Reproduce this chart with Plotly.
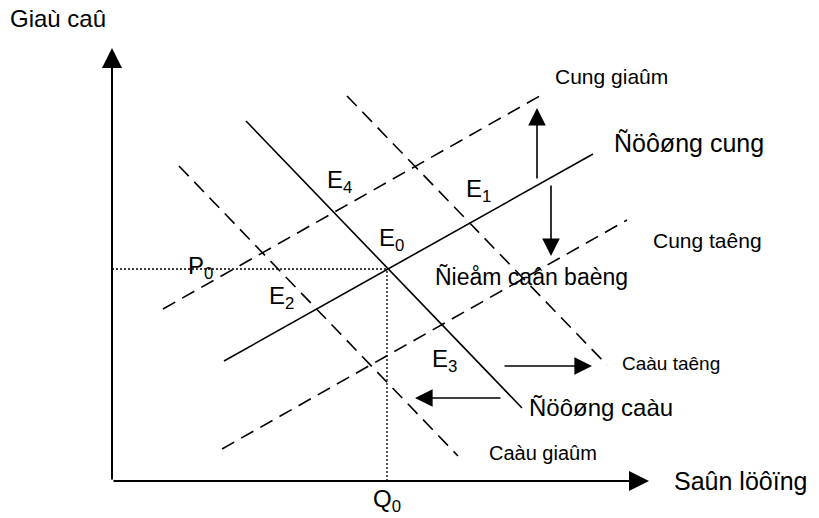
import plotly.graph_objects as go

# Data in diagram units: Q = quantity (x), P = price (y)
supply_q = [112, 481]
supply_p = [120, 327]
demand_q = [134, 410]
demand_p = [360, 73]
supply_dec_q = [51, 433]
supply_dec_p = [172, 388]
supply_inc_q = [110, 515]
supply_inc_p = [32, 261]
demand_inc_q = [235, 495]
demand_inc_p = [385, 116]
demand_dec_q = [67, 346]
demand_dec_p = [315, 25]
Q0 = 275
P0 = 212
axis_q_max = 537
axis_p_max = 433

# shift arrows: (q_from, p_from, q_to, p_to)
shift_arrows = [
    (425, 301, 425, 373),
    (439, 297, 439, 225),
    (391, 115, 480, 115),
    (390, 83, 303, 83),
]

# labels: (text, q, p, size, xanchor)
labels = [
    ("Giaù caû", -104, 463, 24, "left"),
    ("Cung giaûm", 441, 405, 21, "left"),
    ("Ñöôøng cung", 500, 338, 25, "left"),
    ("Cung taêng", 539, 241, 21, "left"),
    ("Ñieåm caân baèng", 321, 204, 23, "left"),
    ("Caàu taêng", 508, 118, 19, "left"),
    ("Ñöôøng caàu", 415, 74, 24, "left"),
    ("Caàu giaûm", 375, 28, 20, "left"),
    ("Saûn löôïng", 560, 0, 25, "left"),
    ("P<sub>0</sub>", 74, 214, 24, "left"),
    ("Q<sub>0</sub>", 275, -19, 24, "center"),
    ("E<sub>4</sub>", 213, 300, 24, "left"),
    ("E<sub>1</sub>", 352, 291, 24, "left"),
    ("E<sub>0</sub>", 265, 242, 24, "left"),
    ("E<sub>2</sub>", 155, 184, 24, "left"),
    ("E<sub>3</sub>", 318, 121, 24, "left"),
]

FONT = "Arial, Liberation Sans, sans-serif"
fig = go.Figure()

def line(q, p, dash="solid", width=1.6):
    fig.add_trace(go.Scatter(x=q, y=p, mode="lines",
                             line=dict(color="black", width=width, dash=dash),
                             hoverinfo="skip", showlegend=False))

line(supply_q, supply_p)
line(demand_q, demand_p)
dash = "14px,8px"
line(supply_dec_q, supply_dec_p, dash)
line(supply_inc_q, supply_inc_p, dash)
line(demand_inc_q, demand_inc_p, dash)
line(demand_dec_q, demand_dec_p, dash)
line([0, Q0], [P0, P0], "2px,2px", 1.3)
line([Q0, Q0], [0, P0], "2px,2px", 1.3)

annots = []
def arrow(q0, p0, q1, p1, w=1.6, size=2.2):
    annots.append(dict(x=q1, y=p1, ax=q0, ay=p0, xref="x", yref="y",
                       axref="x", ayref="y", showarrow=True, arrowhead=2,
                       arrowsize=size, arrowwidth=w, arrowcolor="black",
                       standoff=0, startstandoff=0, text=""))

arrow(0, 0, axis_q_max, 0, 2, 2.0)
arrow(0, 0, 0, axis_p_max, 2, 2.0)
for a in shift_arrows:
    arrow(*a)

for t, q, p, s, xa in labels:
    annots.append(dict(x=q, y=p, xref="x", yref="y", text=t, showarrow=False,
                       xanchor=xa, yanchor="middle",
                       font=dict(family=FONT, size=s, color="black")))

fig.update_layout(
    width=819, height=518,
    margin=dict(l=0, r=0, t=0, b=0),
    paper_bgcolor="white", plot_bgcolor="white",
    xaxis=dict(range=[-112, 707], visible=False, fixedrange=True),
    yaxis=dict(range=[-37, 481], visible=False, fixedrange=True),
    annotations=annots,
    showlegend=False,
)
fig.write_html("out.html", config={"displayModeBar": False},
               post_script="document.body.style.margin='0';document.body.style.overflow='hidden';")
